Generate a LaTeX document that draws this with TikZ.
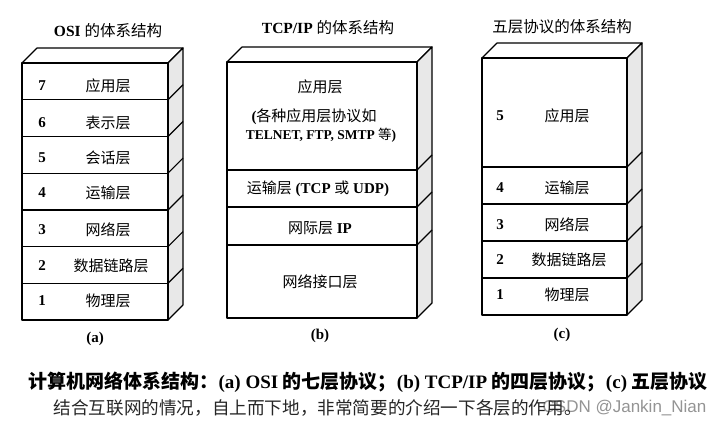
\documentclass[tikz,border=0pt]{standalone}
\usepackage{fontspec}
\setmainfont{Liberation Serif}
\newfontfamily\cjk{Noto Sans CJK SC}
\newfontfamily\wmfont{Liberation Sans}
\newcommand\zh[1]{{\mdseries\cjk #1}}
\newcommand\zhb[1]{{\cjk #1}}
\newcommand\stackbox[4]{%
  \draw[fill=white] (#1,#3) -- ++(15,-15) -- (#2+15,#3-15) -- (#2,#3) -- cycle;
  \draw[sideface] (#2,#3) -- ++(15,-15) -- (#2+15,#4-15) -- (#2,#4) -- cycle;
  \draw[fill=white] (#1,#3) rectangle (#2,#4);}
\begin{document}
\begin{tikzpicture}[x=1pt,y=-1pt,line width=1.2pt,line join=round,
  sideface/.style={fill=black!9,draw=black},
  lab/.style={font=\fontsize{15}{18}\selectfont\cjk,inner sep=0pt},
  blab/.style={font=\fontsize{15}{18}\selectfont\bfseries,inner sep=0pt},
  num/.style={font=\fontsize{15}{17}\selectfont\bfseries,inner sep=0pt},
  ttl/.style={font=\fontsize{15.5}{18}\selectfont\bfseries,inner sep=0pt},
  sublab/.style={font=\fontsize{15}{17}\selectfont\bfseries,inner sep=0pt},
  capt/.style={font=\fontsize{19}{22}\selectfont\bfseries,inner sep=0pt,anchor=west},
  capb/.style={font=\fontsize{17.6}{20}\selectfont\cjk,text=black!85,inner sep=0pt,anchor=west},
  wm/.style={font=\fontsize{17}{20}\selectfont\wmfont,text=black!42,inner sep=0pt,anchor=east}]
\useasboundingbox[fill=white] (0,0) rectangle (723,428);

% ---------- (a) OSI ----------
\stackbox{22}{168}{63}{320}
\foreach \y in {99.7,136.4,173.1,209.9,246.6,283.3}{
  \draw (22,\y) -- (168,\y);
  \draw (168,\y) -- ++(15,-15);}
\node[ttl] (ta) at (108,31) {OSI \zh{的体系结构}};
\node[num] (a7) at (42,86) {7};  \node[lab] (l7) at (108,86) {应用层};
\node[num] (a6) at (42,123) {6}; \node[lab] (l6) at (108,123) {表示层};
\node[num] (a5) at (42,158) {5}; \node[lab] (l5) at (108,158) {会话层};
\node[num] (a4) at (42,193) {4}; \node[lab] (l4) at (108,193) {运输层};
\node[num] (a3) at (42,230) {3}; \node[lab] (l3) at (108,230) {网络层};
\node[num] (a2) at (42,266) {2}; \node[lab] (l2) at (111,266) {数据链路层};
\node[num] (a1) at (42,301) {1}; \node[lab] (l1) at (108,301) {物理层};
\node[sublab] (sa) at (95,339) {(a)};

% ---------- (b) TCP/IP ----------
\stackbox{227}{417}{62}{318}
\foreach \y in {170,207,245}{
  \draw (227,\y) -- (417,\y);
  \draw (417,\y) -- ++(15,-15);}
\node[ttl] (tb) at (328,28) {TCP/IP \zh{的体系结构}};
\node[lab] (b4a) at (320,87) {应用层};
\node[blab] (b4b) at (314,117) {(\zh{各种应用层协议如}};
\node[blab,font=\fontsize{13.5}{16}\selectfont\bfseries] (b4c) at (321,135) {TELNET, FTP, SMTP \zh{等})};
\node[blab] (b3) at (318,189) {\zh{运输层} (TCP \zh{或} UDP)};
\node[blab] (b2) at (320,228) {\zh{网际层} IP};
\node[lab] (b1) at (320,282) {网络接口层};
\node[sublab] (sb) at (320,336) {(b)};

% ---------- (c) five layers ----------
\stackbox{482}{627}{58}{315}
\foreach \y in {167,204,241,278}{
  \draw (482,\y) -- (627,\y);
  \draw (627,\y) -- ++(15,-15);}
\node[ttl] (tc) at (562,27) {\zh{五层协议的体系结构}};
\node[num] (c5) at (500,116) {5}; \node[lab] (m5) at (567,116) {应用层};
\node[num] (c4) at (500,188) {4}; \node[lab] (m4) at (567,188) {运输层};
\node[num] (c3) at (500,225) {3}; \node[lab] (m3) at (567,225) {网络层};
\node[num] (c2) at (500,260) {2}; \node[lab] (m2) at (569,260) {数据链路层};
\node[num] (c1) at (500,295) {1}; \node[lab] (m1) at (567,295) {物理层};
\node[sublab] (sc) at (562,335) {(c)};

% ---------- captions ----------
\node[capt] (cap1) at (28,382) {\zhb{计算机网络体系结构：}(a) OSI \zhb{的七层协议；}(b) TCP/IP \zhb{的四层协议；}(c) \zhb{五层协议}};
\node[wm] (wmk) at (707,408) {CSDN @Jankin\_Nian};
\node[capb] (cap2) at (53,408) {结合互联网的情况，自上而下地，非常简要的介绍一下各层的作用。};
\end{tikzpicture}
\end{document}
